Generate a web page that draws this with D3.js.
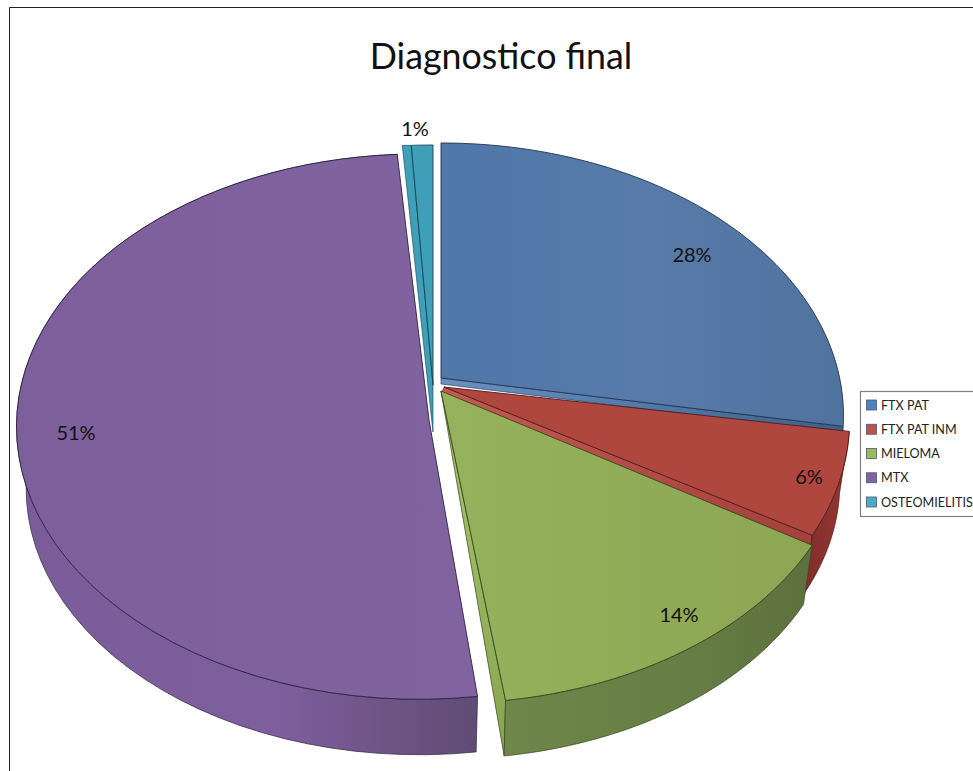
<!DOCTYPE html>
<html>
<head>
<meta charset="utf-8">
<script src="https://cdn.jsdelivr.net/npm/d3@7"></script>
<style>
html,body{margin:0;padding:0;background:#fff;overflow:hidden}
svg{display:block}
text{font-family:Lato,"Open Sans",sans-serif}
</style>
</head>
<body>
<svg id="chart" width="973" height="771"></svg>
<script>
const categories = ["FTX PAT", "FTX PAT INM", "MIELOMA", "MTX", "OSTEOMIELITIS"];
const shares = [28, 6, 14, 51, 1];
const tickLabels = ["28%", "6%", "14%", "51%", "1%"];

// Disc proportions and camera
const radiusX = 398, radiusY = 266.6, tilt = 0.149;
const wallDepth = 63, floorScale = 0.976;

const styles = [
  {top:"#5579a9", line:"#22324d", swatch:"#4f81bd"},
  {top:"#b0473f", line:"#4d1b18", swatch:"#c0504d"},
  {top:"#93ad59", line:"#38441f", swatch:"#9bbb59"},
  {top:"#7f619c", line:"#2f2340", swatch:"#8064a2"},
  {top:"#3f9fb8", line:"#143f4b", swatch:"#4bacc6"}
];

// Exploded slices: the centre each rim is measured from, and the drawn inner point
const hubs = [[441,375],[447,380],[447,390],[419,386],[433,377]];
const tips = [[441,378],[444,387],[441,391],[429,420],[433,385]];
const labelSpots = [[692,255],[809,477],[679,615],[76,433],[415,129]];

const svg = d3.select("#chart");
const defs = svg.append("defs");

const pie = d3.pie().sort(null).value(d => d);
const arcs = pie(shares);

// Perspective projection of a unit-disc direction to a screen offset
function project(theta) {
  const u = Math.sin(theta), v = -Math.cos(theta);
  const s = 1 / (1 - tilt * v);
  return [radiusX * u * s, radiusY * v * s];
}
function rim(a, i, n = 60) {
  const t = d3.scaleLinear().domain([0, n]).range([a.startAngle, a.endAngle]);
  return d3.range(n + 1).map(k => {
    const p = project(t(k));
    return [hubs[i][0] + p[0], hubs[i][1] + p[1]];
  });
}
function floorOf(points, i) {
  return points.map(p => [
    hubs[i][0] + (p[0] - hubs[i][0]) * floorScale,
    hubs[i][1] + (p[1] - hubs[i][1]) * floorScale + wallDepth
  ]);
}
const line = d3.line();
const closed = pts => line(pts) + "Z";

// Frame
svg.append("path").attr("d", "M9.5,771V7.5H973").attr("fill", "none").attr("stroke", "#222").attr("stroke-width", 1);

// Title
svg.append("text").attr("x", 501).attr("y", 69).attr("text-anchor", "middle")
  .attr("font-size", 35.8).attr("fill", "#111").text("Diagnostico final");

function hGradient(id, x0, x1, stops) {
  const g = defs.append("linearGradient").attr("id", id)
    .attr("gradientUnits", "userSpaceOnUse")
    .attr("x1", x0).attr("x2", x1).attr("y1", 0).attr("y2", 0);
  stops.forEach(([o, c]) => g.append("stop").attr("offset", o).attr("stop-color", c));
}
hGradient("wall-purple", 17, 483, [[0,"#7b5c9a"],[0.55,"#7d5f9e"],[0.75,"#715689"],[1,"#5f4b74"]]);
hGradient("wall-green", 505, 815, [[0,"#6f8749"],[0.6,"#667d44"],[1,"#5c703d"]]);
hGradient("wall-red", 800, 845, [[0,"#7f2c28"],[1,"#933732"]]);
hGradient("edge-blue", 441, 845, [[0,"#6a90c0"],[0.5,"#517aa9"],[1,"#3d6088"]]);
hGradient("edge-red", 444, 815, [[0,"#c25a52"],[1,"#a3413a"]]);
hGradient("face-blue", 441, 845, [[0,"#4f77a9"],[0.5,"#587ba9"],[1,"#50729f"]]);
hGradient("face-green", 441, 815, [[0,"#96b25c"],[1,"#8ca654"]]);
hGradient("face-purple", 17, 483, [[0,"#7d5f9c"],[1,"#81639f"]]);

const drawOrder = [0, 4, 3, 1, 2];
const outline = 0.9;

drawOrder.forEach(i => {
  const a = arcs[i];
  const st = styles[i];
  const top = rim(a, i);
  const bottom = floorOf(top, i);
  const tip = tips[i];
  const first = top[0], last = top[top.length - 1];
  const g = svg.append("g").attr("class", "slice").datum(a);

  // Radial walls that stay visible past the neighbouring slices
  if (i === 0) {
    g.append("path").attr("d", closed([tip, last, [last[0], last[1] + 7], [tip[0], tip[1] + 6]]))
      .attr("fill", "url(#edge-blue)").attr("stroke", st.line).attr("stroke-width", 0.6);
  }
  if (i === 1) {
    g.append("path").attr("d", closed([tip, last, [last[0] - 1, last[1] + 16], [tip[0] - 2, tip[1] + 5]]))
      .attr("fill", "url(#edge-red)").attr("stroke", st.line).attr("stroke-width", 0.6);
  }
  if (i === 2) {
    const side = defs.append("linearGradient").attr("id", "green-side")
      .attr("gradientUnits", "userSpaceOnUse").attr("x1", 0).attr("x2", 0).attr("y1", 400).attr("y2", 750);
    side.append("stop").attr("offset", 0).attr("stop-color", "#a9c76d");
    side.append("stop").attr("offset", 1).attr("stop-color", "#86a54f");
    g.append("path").attr("d", closed([tip, last, bottom[bottom.length - 1]]))
      .attr("fill", "url(#green-side)").attr("stroke", st.line).attr("stroke-width", 0.7);
  }
  if (i === 4) {
    g.append("path").attr("d", closed([[first[0] - 9, first[1]], first, tip, [tip[0], tip[1] + 47]]))
      .attr("fill", st.top).attr("stroke", st.line).attr("stroke-width", 0.6);
  }

  // Outer wall
  if (i === 1 || i === 2 || i === 3) {
    const fill = {1:"url(#wall-red)", 2:"url(#wall-green)", 3:"url(#wall-purple)"}[i];
    g.append("path").attr("d", closed(top.concat(bottom.slice().reverse())))
      .attr("fill", fill).attr("stroke", st.line).attr("stroke-width", 0.7);
  }

  // Upper face
  const face = {0:"url(#face-blue)", 2:"url(#face-green)", 3:"url(#face-purple)"}[i] || st.top;
  g.append("path").attr("d", closed([tip].concat(top)))
    .attr("fill", face).attr("stroke", st.line).attr("stroke-width", outline).attr("stroke-linejoin", "round");
});

// Percentage labels
svg.append("g").selectAll("text").data(tickLabels).join("text")
  .attr("x", (d, i) => labelSpots[i][0])
  .attr("y", (d, i) => labelSpots[i][1] + 7)
  .attr("text-anchor", "middle")
  .attr("font-size", 20)
  .attr("fill", "#111")
  .text(d => d);

// Legend
const legend = svg.append("g");
legend.append("rect").attr("x", 860.5).attr("y", 391.5).attr("width", 120).attr("height", 125)
  .attr("fill", "#fff").attr("stroke", "#808080").attr("stroke-width", 1.2);
const legendY = d3.scalePoint().domain(categories).range([405, 502]);
categories.forEach((name, i) => {
  legend.append("rect").attr("x", 866.5).attr("y", legendY(name) - 5).attr("width", 10).attr("height", 10)
    .attr("fill", styles[i].swatch).attr("stroke", "#4a5a70").attr("stroke-width", 0.8);
  legend.append("text").attr("x", 881).attr("y", legendY(name) + 4.5)
    .attr("font-size", 12.6).attr("fill", "#222").text(name);
});
</script>
</body>
</html>
